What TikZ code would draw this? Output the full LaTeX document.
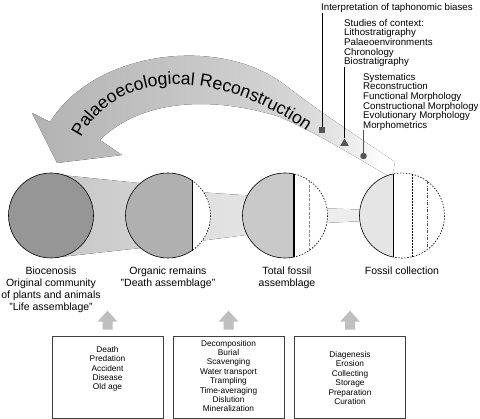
\documentclass[tikz,border=0pt]{standalone}
\usepackage{fontspec}
\setmainfont{Liberation Sans}
\usetikzlibrary{calc,decorations.text,shapes.geometric}
\pgfdeclarehorizontalshading{arrowshade}{100bp}{color(0bp)=(black!30); color(25bp)=(black!30); color(45bp)=(black!23); color(62bp)=(black!16); color(70bp)=(black!6); color(73bp)=(white); color(100bp)=(white)}
\definecolor{cone}{gray}{0.59}
\definecolor{ctwo}{gray}{0.69}
\definecolor{cthree}{gray}{0.79}
\definecolor{cfour}{gray}{0.90}
\definecolor{mk}{gray}{0.33}
\newcommand\mytopfont{\fontsize{9.7}{9.6}\selectfont}
\newcommand\myboxfont{\fontsize{8.3}{9.4}\selectfont}
\newcommand\mylabfont{\fontsize{10.5}{12}\selectfont}
\newcommand\myarrowfont{\fontsize{17.6}{17.6}\selectfont}
\begin{document}
\begin{tikzpicture}[x=1pt,y=-1pt,
  toptext/.style={anchor=north west, inner sep=0pt, align=left, font=\mytopfont},
  boxst/.style={draw=black!75, line width=0.6pt, minimum width=111pt, minimum height=82pt, inner sep=0pt},
  boxtext/.style={align=center, inner sep=0pt, font=\myboxfont},
  lab/.style={align=center, anchor=north, inner sep=0pt, font=\mylabfont},
  dotarc/.style={draw=black, line width=0.6pt, dash pattern=on 1.5pt off 1.5pt},
  solidarc/.style={draw=black, line width=0.6pt},
  upar/.style={fill=black!25},
  conn/.style={draw=black, line width=0.6pt}]
\useasboundingbox (0,0) rectangle (480,419);

% bands between circles
\fill[left color=black!22, right color=black!17] (51,174) -- (168,186) -- (168,245) -- (51,258) -- cycle;
\fill[left color=black!13, right color=black!10] (168,190) -- (285,198) -- (285,230) -- (168,245) -- cycle;
\fill[left color=black!8, right color=black!6] (285,207) -- (402,211) -- (402,219) -- (285,225) -- cycle;

% big curved arrow
\fill[shading=arrowshade] (50,122) .. controls (95,50) and (220,35) .. (285,85)
  .. controls (320,112) and (355,135) .. (395,162) -- (392,178)
  .. controls (360,160) and (325,137) .. (280,117)
  .. controls (210,95) and (140,100) .. (100,140)
  -- (122,155) -- (57,163) -- (32,113) -- cycle;
\path[decorate, decoration={text along path, text align=left,
  text={|\myarrowfont|Palaeoecological Reconstruction}}]
  (81,138) .. controls (114,74) and (212,58) .. (324,143);

% circles
\coordinate (C1) at (51,215.5);
\coordinate (C2) at (168,215.5);
\coordinate (C3) at (285,215.5);
\coordinate (C4) at (402,215.5);
\node[circle, minimum size=85pt, inner sep=0pt, fill=cone, draw=black, line width=0.6pt] (c1) at (C1) {};

\begin{scope}
\clip (120,160) rectangle (192,270);
\fill[ctwo, solidarc] (C2) circle (42.5);
\end{scope}
\begin{scope}
\clip (192,160) rectangle (220,270);
\fill[white] (C2) circle (42.5);
\draw[dotarc] (C2) circle (42.5);
\end{scope}
\draw[line width=0.8pt] (192,180.4) -- (192,250.6);

\begin{scope}
\clip (235,160) rectangle (294,270);
\fill[cthree, solidarc] (C3) circle (42.5);
\end{scope}
\begin{scope}
\clip (294,160) rectangle (340,270);
\fill[white] (C3) circle (42.5);
\draw[dotarc] (C3) circle (42.5);
\end{scope}
\draw[black!45, line width=0.6pt, dash pattern=on 3pt off 1.5pt] (309,180.4) -- (309,250.6);
\draw[line width=1.1pt] (294,174) -- (294,257);

\begin{scope}
\clip (350,160) rectangle (393,270);
\fill[cfour, solidarc] (C4) circle (42.5);
\end{scope}
\begin{scope}
\clip (393,160) rectangle (460,270);
\fill[white] (C4) circle (42.5);
\draw[dotarc] (C4) circle (42.5);
\end{scope}
\draw[line width=0.8pt] (393,174) -- (393,257);
\draw[line width=0.6pt, dash pattern=on 1.5pt off 1.5pt] (412,174.2) -- (412,256.8);
\draw[black!70, line width=0.6pt, dash pattern=on 3pt off 1.5pt on 1pt off 1.5pt] (427,181.1) -- (427,249.9);

% labels under circles
\node[lab] (l1) at (51,267) {Biocenosis\\Original community\\of plants and animals\\"Life assemblage"};
\node[lab] (l2) at (168,267) {Organic remains\\"Death assemblage"};
\node[lab] (l3) at (287,267) {Total fossil\\assemblage};
\node[lab] (l4) at (402,267) {Fossil collection};

% boxes
\node[boxst] (b1) at (107.5,377) {};
\node[boxst] (b2) at (228.5,377) {};
\node[boxst] (b3) at (350,377) {};
\node[boxtext] (t1) at (107.5,369) {Death\\Predation\\Accident\\Disease\\Old age};
\node[boxtext] (t2) at (228.5,376) {Decomposition\\Burial\\Scavenging\\Water transport\\Trampling\\Time-averaging\\Dislution\\Mineralization};
\node[boxtext] (t3) at (350,378) {Diagenesis\\Erosion\\Collecting\\Storage\\Preparation\\Curation};

% up arrows
\foreach \b in {b1,b2,b3}{
  \fill[upar] ($(\b.north)+(-5,-6)$) -- ++(0,-8) -- ++(-5,0) -- ++(10,-11) -- ++(10,11) -- ++(-5,0) -- ++(0,8) -- cycle;
}

% top right annotations
\node[anchor=base west, inner sep=0pt, font=\mytopfont] (itx) at (321,10.5) {Interpretation of taphonomic biases};
\node[rectangle, fill=mk, minimum size=6.5pt, inner sep=0pt] (sq) at (322,130) {};
\draw[conn] (sq.north |- itx.south) -- (sq.north);

\node[toptext] (stx) at (344,19) {Studies of context:\\Lithostratigraphy\\Palaeoenvironments\\Chronology\\Biostratigraphy};
\node[regular polygon, regular polygon sides=3, fill=mk, minimum size=10pt, inner sep=0pt] (tri) at (344.5,143.5) {};
\draw[conn] (tri.north |- stx.south) -- (tri.north);

\node[toptext] (sys) at (363,73) {Systematics\\Reconstruction\\Functional Morphology\\Constructional Morphology\\Evolutionary Morphology\\Morphometrics};
\node[circle, fill=mk, minimum size=6.5pt, inner sep=0pt] (dot) at (363.5,156) {};
\draw[mk, line width=1.5pt] (dot.north |- sys.south) -- (dot.center);
\end{tikzpicture}
\end{document}
